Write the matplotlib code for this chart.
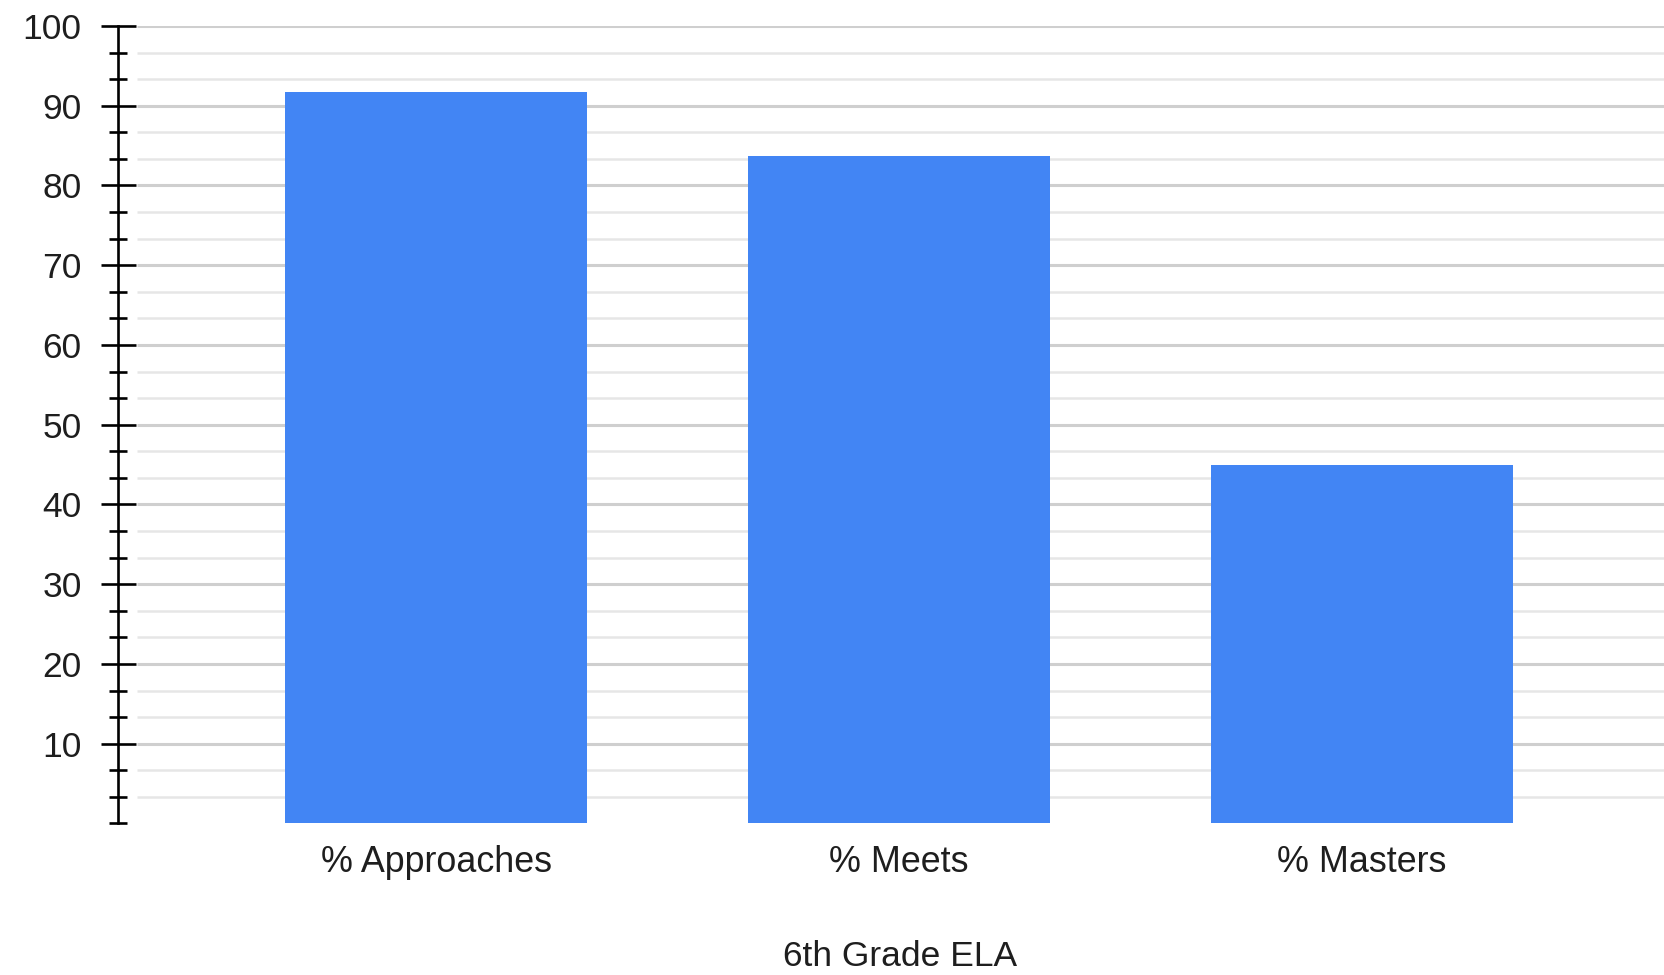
import matplotlib
matplotlib.use("Agg")
import matplotlib.pyplot as plt
import numpy as np

# Data
categories = ["% Approaches", "% Meets", "% Masters"]
values = [91.7, 83.7, 45.0]
x_title = "6th Grade ELA"
major_ticks = [10, 20, 30, 40, 50, 60, 70, 80, 90, 100]
minor_step = 10 / 3

plt.rcParams['font.family'] = ['Liberation Sans', 'DejaVu Sans']

W, H = 1664, 975
fig = plt.figure(figsize=(W / 100, H / 100), dpi=100)
ax_left_px, ax_bottom_px, ax_top_px = 137, 823.4, 26
ax = fig.add_axes([ax_left_px / W, (H - ax_bottom_px) / H, 1 - ax_left_px / W,
                   (ax_bottom_px - ax_top_px) / H])

xpos = np.arange(len(categories))
ax.bar(xpos, values, width=0.651, color="#4285F4", zorder=3)

ax.set_xlim(-0.6458, 2.652)
ax.set_ylim(0, 100)

# y ticks
minor_vals = [minor_step * k for k in range(0, 31) if k % 3 != 0 or k == 0]
ax.set_yticks(major_ticks)
ax.set_yticks(minor_vals, minor=True)
ax.tick_params(axis='y', which='major', direction='inout', length=25.2, width=1.9,
               color='black', labelsize=25.5, labelcolor='#1e1e1e', pad=13.5)
ax.tick_params(axis='y', which='minor', direction='inout', length=12.7, width=1.9,
               color='black')

# gridlines
ax.hlines(major_ticks, -0.6458, 2.652, colors='#cfcfcf', linewidth=2.2, zorder=1)
ax.hlines([v for v in minor_vals if v > 0], -0.6458, 2.652, colors='#e6e6e6',
          linewidth=1.8, zorder=1)

# x tick labels
ax.set_xticks(xpos)
ax.set_xticklabels(categories, fontsize=25.8, color='#1e1e1e')
ax.tick_params(axis='x', length=0, pad=15.5)
ax.set_xlabel(x_title, fontsize=25.5, color='#1e1e1e', labelpad=43.5)

for s in ['top', 'right', 'bottom']:
    ax.spines[s].set_visible(False)
ax.spines['left'].set_position(('outward', 13.7))
ax.spines['left'].set_linewidth(1.9)
ax.spines['left'].set_color('black')

fig.savefig("out.png", dpi=100, facecolor='white')
